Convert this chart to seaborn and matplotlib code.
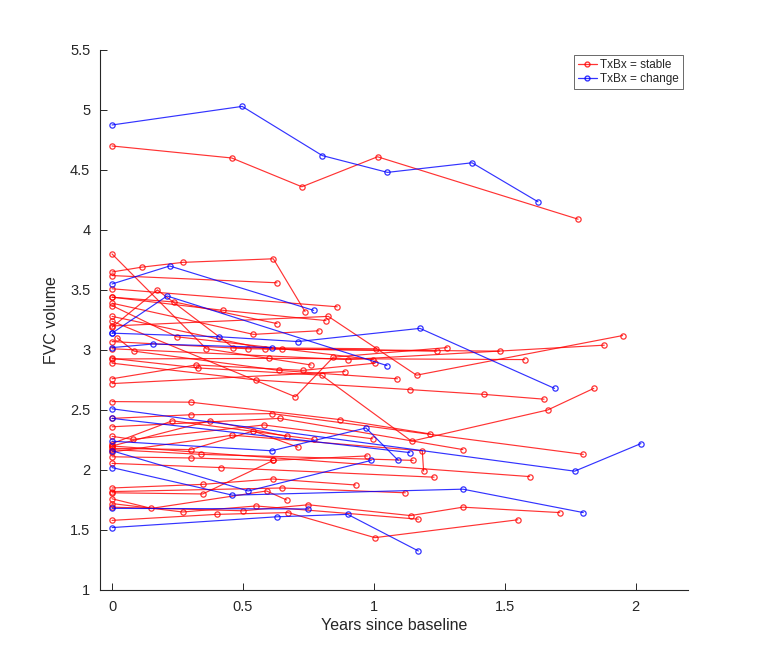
import matplotlib
matplotlib.use("Agg")
import matplotlib.pyplot as plt
from matplotlib.lines import Line2D
from matplotlib.ticker import FuncFormatter
import seaborn as sns
import pandas as pd

# ---- data: one list per subject (years since baseline, FVC volume) ----
subj_years = [
    [0, 0.497, 0.803, 1.052, 1.375, 1.627],
    [0, 0.22, 0.77],
    [0, 0.21, 1.05],
    [0, 0.41, 0.71, 1.176, 1.69],
    [0, 0.158, 0.61],
    [0, 1.767, 2.02],
    [0, 1.137],
    [0, 0.61, 0.97, 1.093],
    [0, 0.52, 0.99],
    [0, 0.46, 1.34, 1.80],
    [0, 0.75],
    [0, 0.63, 0.90, 1.17],
    [0, 0.457, 0.725, 1.014, 1.78],
    [0, 0.36, 0.76],
    [0, 0.113, 0.27, 0.616, 0.737],
    [0, 0.63],
    [0, 0.86],
    [0, 0.425, 0.817],
    [0, 0.826, 1.163, 1.95],
    [0, 0.173, 0.463, 1.01],
    [0, 0.238, 0.63],
    [0, 0.54, 0.79],
    [0, 0.247, 0.65, 0.998],
    [0, 0.584, 1.24],
    [0.02, 0.084, 0.637, 1.09],
    [0, 0.52, 1.48],
    [0, 0.90, 1.88],
    [0, 0.33, 0.80, 1.144, 1.664, 1.84],
    [0, 0.60, 1.576],
    [0, 0.55, 1.137, 1.42, 1.65],
    [0, 0.32, 0.73, 1.004],
    [0, 0.70, 0.845, 1.28],
    [0, 0.89],
    [0, 0.30, 0.87, 1.216],
    [0, 0.30, 0.61, 1.80],
    [0, 0.64, 1.34],
    [0, 0.08, 0.58, 0.995],
    [0, 0.23, 0.77],
    [0, 0.374, 0.667],
    [0, 0.30, 0.54, 0.71],
    [0, 0.34, 1.15],
    [0, 0.46, 1.185, 1.19],
    [0, 0.30, 0.613, 0.975],
    [0, 0.416, 1.23],
    [0, 1.595],
    [0, 0.346, 0.613, 0.93],
    [0, 0.346, 0.616],
    [0, 0.65, 1.12],
    [0, 0.15, 0.59, 0.667],
    [0, 0.50, 0.75, 1.14, 1.34, 1.71],
    [0, 0.40, 0.672, 1.004, 1.55],
    [0, 0.27, 0.55, 1.17],
]
subj_fvc = [
    [4.875, 5.03, 4.62, 4.48, 4.56, 4.235],
    [3.55, 3.70, 3.33],
    [3.14, 3.45, 2.87],
    [3.14, 3.11, 3.07, 3.18, 2.68],
    [3.02, 3.05, 3.02],
    [2.51, 1.99, 2.22],
    [2.43, 2.145],
    [2.24, 2.16, 2.35, 2.08],
    [2.16, 1.825, 2.08],
    [2.02, 1.79, 1.84, 1.645],
    [1.68, 1.675],
    [1.52, 1.61, 1.63, 1.325],
    [4.70, 4.60, 4.36, 4.61, 4.09],
    [3.80, 3.01, 2.875],
    [3.65, 3.69, 3.73, 3.76, 3.32],
    [3.62, 3.56],
    [3.51, 3.36],
    [3.44, 3.33, 3.245],
    [3.20, 3.28, 2.79, 3.12],
    [3.19, 3.50, 3.02, 3.01],
    [3.44, 3.40, 3.22],
    [3.39, 3.13, 3.16],
    [3.37, 3.11, 3.01, 2.92],
    [3.28, 3.01, 2.99],
    [3.10, 2.99, 2.83, 2.76],
    [3.07, 3.01, 2.99],
    [3.01, 2.92, 3.04],
    [2.93, 2.85, 2.79, 2.24, 2.50, 2.68],
    [2.925, 2.93, 2.92],
    [2.89, 2.75, 2.67, 2.63, 2.59],
    [2.76, 2.875, 2.83, 2.89],
    [3.24, 2.61, 2.94, 3.02],
    [2.72, 2.82],
    [2.57, 2.565, 2.42, 2.30],
    [2.43, 2.46, 2.47, 2.13],
    [2.36, 2.43, 2.17],
    [2.28, 2.255, 2.375, 2.26],
    [2.22, 2.41, 2.255],
    [2.20, 2.41, 2.28],
    [2.18, 2.17, 2.325, 2.19],
    [2.17, 2.13, 2.08],
    [2.15, 2.29, 2.16, 1.99],
    [2.11, 2.10, 2.08, 2.117],
    [2.055, 2.02, 1.94],
    [2.20, 1.945],
    [1.85, 1.88, 1.925, 1.875],
    [1.81, 1.80, 2.08],
    [1.82, 1.85, 1.81],
    [1.76, 1.68, 1.825, 1.75],
    [1.69, 1.66, 1.71, 1.62, 1.69, 1.645],
    [1.58, 1.63, 1.645, 1.436, 1.585],
    [1.72, 1.65, 1.70, 1.59],
]
subj_group = ["TxBx = change"] * 12 + ["TxBx = stable"] * 40

group_order = ["TxBx = stable", "TxBx = change"]
group_colors = {"TxBx = stable": "#ff0000", "TxBx = change": "#0000ff"}

x_ticks = [0, 0.5, 1, 1.5, 2]
y_ticks = [1, 1.5, 2, 2.5, 3, 3.5, 4, 4.5, 5, 5.5]

rows = []
for sid, (yrs, vals, grp) in enumerate(zip(subj_years, subj_fvc, subj_group)):
    for order, (t, v) in enumerate(zip(yrs, vals)):
        rows.append({"subject": sid, "order": order, "years": t, "fvc": v, "group": grp})
df = pd.DataFrame(rows)

sns.set_style("ticks")
plt.rcParams["font.family"] = ["Liberation Sans", "DejaVu Sans"]

fig = plt.figure(figsize=(7.6, 6.62), dpi=100)
ax = fig.add_axes([0.1316, 0.1088, 0.7737, 0.8157])

sns.lineplot(data=df, x="years", y="fvc", hue="group", units="subject",
             estimator=None, sort=False, palette=group_colors, hue_order=group_order,
             marker="o", markersize=3.8, linewidth=0.85, alpha=0.8, legend=False, ax=ax)

for ln in ax.lines:
    c = ln.get_color()
    ln.set_markerfacecolor("none")
    ln.set_markeredgecolor(c)
    ln.set_markeredgewidth(0.9)

ax.set_xlim(-0.046, 2.2)
ax.set_ylim(1, 5.5)
ax.set_xticks(x_ticks)
ax.set_yticks(y_ticks)
fmt = FuncFormatter(lambda v, p: "%g" % v)
ax.xaxis.set_major_formatter(fmt)
ax.yaxis.set_major_formatter(fmt)
ax.tick_params(direction="in", length=5, width=0.7, colors="#262626", labelsize=10.5,
               pad=7, left=True, bottom=True, top=False, right=False)
for s in ["top", "right"]:
    ax.spines[s].set_visible(False)
for s in ["left", "bottom"]:
    ax.spines[s].set_color("#262626")
    ax.spines[s].set_linewidth(0.8)

ax.set_xlabel("Years since baseline", fontsize=11.5, color="#262626", labelpad=3)
ax.set_ylabel("FVC volume", fontsize=11.5, color="#262626", labelpad=8)

handles = [Line2D([0], [0], color=group_colors[g], lw=0.9, alpha=0.8, marker="o",
                  markersize=3.5, markerfacecolor="none", markeredgecolor=group_colors[g])
           for g in group_order]
leg = ax.legend(handles, group_order, loc="upper right", bbox_to_anchor=(1.0, 1.0),
                fontsize=8.5, frameon=True, fancybox=False, handlelength=1.6,
                handletextpad=0.3, borderpad=0.3, labelspacing=0.2, borderaxespad=0.45)
leg.get_frame().set_edgecolor("#262626")
leg.get_frame().set_linewidth(0.6)

fig.savefig("out.png", dpi=100)
